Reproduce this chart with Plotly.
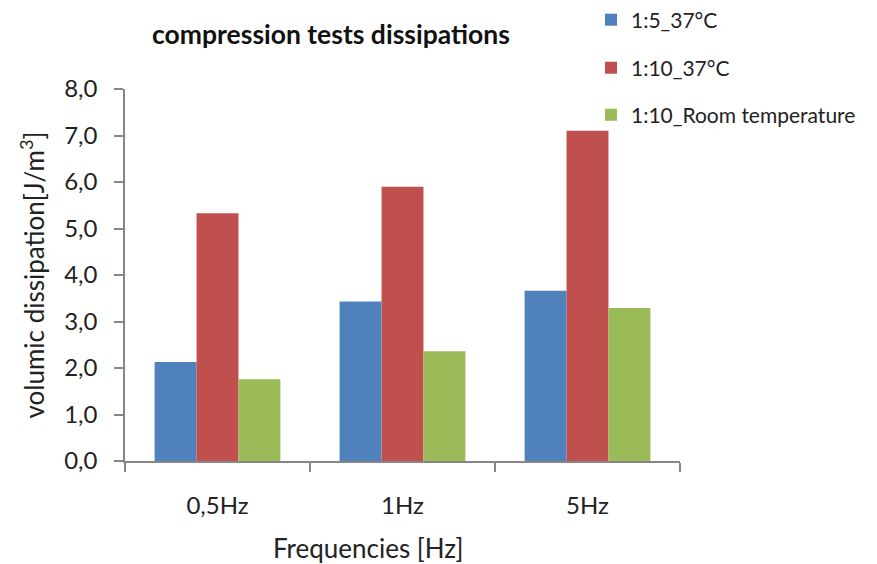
import plotly.graph_objects as go

categories = ["0,5Hz", "1Hz", "5Hz"]
series_names = ["1:5_37°C", "1:10_37°C", "1:10_Room temperature"]
s1 = [2.13, 3.43, 3.66]
s2 = [5.33, 5.90, 7.10]
s3 = [1.76, 2.36, 3.29]
colors = ["#4F81BD", "#C0504D", "#9BBB59"]
y_ticks = [0, 1, 2, 3, 4, 5, 6, 7, 8]

FONT = "Lato, 'Open Sans', sans-serif"
TXT = "#222222"

W, H = 877, 564
legend_ids = ["legend", "legend2", "legend3"]
legend_y = [0.9645, 0.8794, 0.7961]

fig = go.Figure()
for name, vals, col, lid in zip(series_names, [s1, s2, s3], colors, legend_ids):
    fig.add_trace(go.Bar(x=categories, y=vals, name=name, marker_color=col,
                         marker_line_width=0, legend=lid))

def leg(y):
    return dict(xref="container", yref="container", x=0.6739, xanchor="left",
                y=y, yanchor="middle",
                font=dict(size=21, family=FONT, color=TXT),
                bgcolor="rgba(0,0,0,0)")

fig.update_layout(
    width=W, height=H,
    margin=dict(l=125, r=197, t=89, b=103, autoexpand=False),
    paper_bgcolor="white", plot_bgcolor="white",
    separators=",.",
    barmode="group", bargap=0.32, bargroupgap=0,
    font=dict(family=FONT, color=TXT, size=16),
    title=dict(text="<b>compression tests dissipations</b>", x=0.3774, xanchor="center",
               y=0.938, yanchor="middle", font=dict(size=26.5, family=FONT, color="#111111")),
    legend=leg(legend_y[0]), legend2=leg(legend_y[1]), legend3=leg(legend_y[2]),
    showlegend=True,
    annotations=[dict(text="Frequencies [Hz]", xref="paper", yref="paper",
                      x=0.438, y=-0.234, xanchor="center", yanchor="middle",
                      showarrow=False, font=dict(size=26, family=FONT, color=TXT))],
)
fig.update_xaxes(
    showline=True, linecolor="#868686", linewidth=1.5,
    ticks="outside", ticklen=9, tickcolor="#868686", tickwidth=1.5,
    tickson="boundaries", showgrid=False, automargin=False,
    ticklabelstandoff=22,
    tickfont=dict(size=24, family=FONT),
)
fig.update_yaxes(
    range=[0, 8], tickvals=y_ticks, tickformat=".1f",
    showline=True, linecolor="#868686", linewidth=1.5,
    ticks="outside", ticklen=9, tickcolor="#868686", tickwidth=1.5,
    showgrid=False, zeroline=False, automargin=False,
    ticklabelstandoff=12,
    title=dict(text="volumic dissipation[J/m<sup>3</sup>]", font=dict(size=26, family=FONT), standoff=12),
    tickfont=dict(size=24, family=FONT),
)
fig.write_html("out.html", config={"displayModeBar": False},
               post_script="document.body.style.margin='0';")
